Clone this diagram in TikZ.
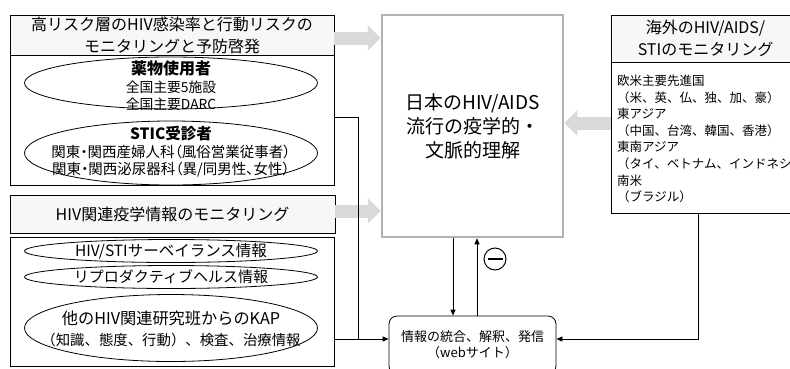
\documentclass[tikz,border=0pt]{standalone}
\usepackage{fontspec}
\setmainfont{Noto Sans CJK JP}
\usetikzlibrary{shapes.geometric,arrows.meta,calc}
\tikzset{
  box/.style={draw, line width=0.8pt, inner sep=0pt},
  hdr/.style={box, fill=gray!6},
  ell/.style={draw, ellipse, line width=0.8pt, inner sep=0pt},
  lbl/.style={inner sep=0pt, align=center},
  conn/.style={line width=0.8pt},
  arr/.style={conn, -{Triangle[length=6pt,width=5pt]}},
  garrow/.style={line width=13pt, draw=gray!30, -{Triangle[length=13pt,width=25pt]}},
}
\begin{document}
\begin{tikzpicture}[x=1pt,y=-1pt]
\useasboundingbox (0,0) rectangle (790,368);
\clip (0,0) rectangle (790,368);
% left top block
\node[hdr, minimum width=324pt, minimum height=40pt, font=\fontsize{16}{22}\selectfont, align=center] (lhdr) at (172,35) {高リスク層のHIV感染率と行動リスクの\\モニタリングと予防啓発};
\node[box, minimum width=324pt, minimum height=130pt] (lbody) at (172,120) {};
\node[ell, minimum width=293pt, minimum height=52pt] (e1) at (171,83) {};
\node[lbl, font=\fontsize{13.8}{17.5}\selectfont] (t1) at (171,86) {{\bfseries\fontsize{16}{17.5}\selectfont 薬物使用者}\\全国主要5施設\\全国主要DARC};
\node[ell, minimum width=293pt, minimum height=64pt] (e2) at (171,153) {};
\node[lbl, font=\fontsize{14.5}{17.5}\selectfont\addfontfeatures{RawFeature=+palt}] (t2) at (171,152) {{\bfseries\fontsize{15.5}{17.5}\selectfont STIC受診者}\\関東・関西産婦人科（風俗営業従事者）\\関東・関西泌尿器科（異/同男性、女性）};
% left middle header
\node[hdr, minimum width=325pt, minimum height=38pt, font=\fontsize{16}{20}\selectfont] (mhdr) at (172.5,214) {HIV関連疫学情報のモニタリング};
% left bottom block
\node[box, minimum width=324pt, minimum height=129pt] (lbot) at (172,301.5) {};
\node[ell, minimum width=293pt, minimum height=23pt] (e3) at (171,251) {};
\node[lbl, font=\fontsize{15.5}{18}\selectfont] (t3) at (171,251) {HIV/STIサーベイランス情報};
\node[ell, minimum width=293pt, minimum height=23pt] (e4) at (171,277) {};
\node[lbl, font=\fontsize{15}{18}\selectfont] (t4) at (171,277) {リプロダクティブヘルス情報};
\node[ell, minimum width=293pt, minimum height=67pt] (e5) at (171,328) {};
\node[lbl, font=\fontsize{14.4}{21}\selectfont] (t5) at (171,328.5) {{\fontsize{16.2}{21}\selectfont 他のHIV関連研究班からのKAP}\\（知識、態度、行動）、検査、治療情報};
% centre
\node[box, draw=gray!60, line width=2.5pt, minimum width=181pt, minimum height=222pt, font=\fontsize{19}{24}\selectfont, align=center] (core) at (472.5,126) {日本のHIV/AIDS\\流行の疫学的・\\文脈的理解};
% right block
\node[hdr, minimum width=189pt, minimum height=47pt, font=\fontsize{16}{22}\selectfont, align=center] (rhdr) at (705.5,38.5) {海外のHIV/AIDS/\\STIのモニタリング};
\node[box, minimum width=189pt, minimum height=151pt] (rbody) at (705.5,137.5) {};
\node[anchor=west, align=left, inner sep=0pt, font=\fontsize{12.5}{16.6}\selectfont] (rtext) at (617,139) {欧米主要先進国\\（米、英、仏、独、加、豪）\\東アジア\\（中国、台湾、韓国、香港）\\東南アジア\\（タイ、ベトナム、インドネシア\\南米\\（ブラジル）};
% info
\node[box, rounded corners=8pt, minimum width=167pt, minimum height=58pt, font=\fontsize{13}{16}\selectfont, align=center] (info) at (472.5,345) {情報の統合、解釈、発信\\（webサイト）};
% grey arrows
\draw[garrow] ($(lhdr.east)+(0,3)$) coordinate (ga) -- (core.west |- ga);
\draw[garrow] ($(mhdr.east)+(0,-3)$) coordinate (gb) -- (core.west |- gb);
\draw[garrow] ($(rbody.west)+(0,-14.5)$) coordinate (gc) -- (core.east |- gc);
% connectors
\coordinate (jl) at (358,339);
\coordinate (jr) at (698,339);
\draw[conn] ($(lbody.north east)+(0,63)$) -| (jl);
\draw[arr] (lbot.east |- jl) -- (info.west |- jl);
\draw[arr] (rbody.south -| jr) |- (info.east |- jr);
\draw[arr] ($(core.south)+(-19.5,0)$) -- ($(info.north)+(-19.5,0)$);
\draw[arr] ($(info.north)+(4.5,0)$) -- ($(core.south)+(4.5,0)$);
\node[circle, draw, line width=1pt, minimum size=22pt, inner sep=0pt] (minus) at (495,259) {};
\draw[line width=1.5pt] ($(minus.west)+(4,0)$) -- ($(minus.east)+(-4,0)$);
\end{tikzpicture}
\end{document}
